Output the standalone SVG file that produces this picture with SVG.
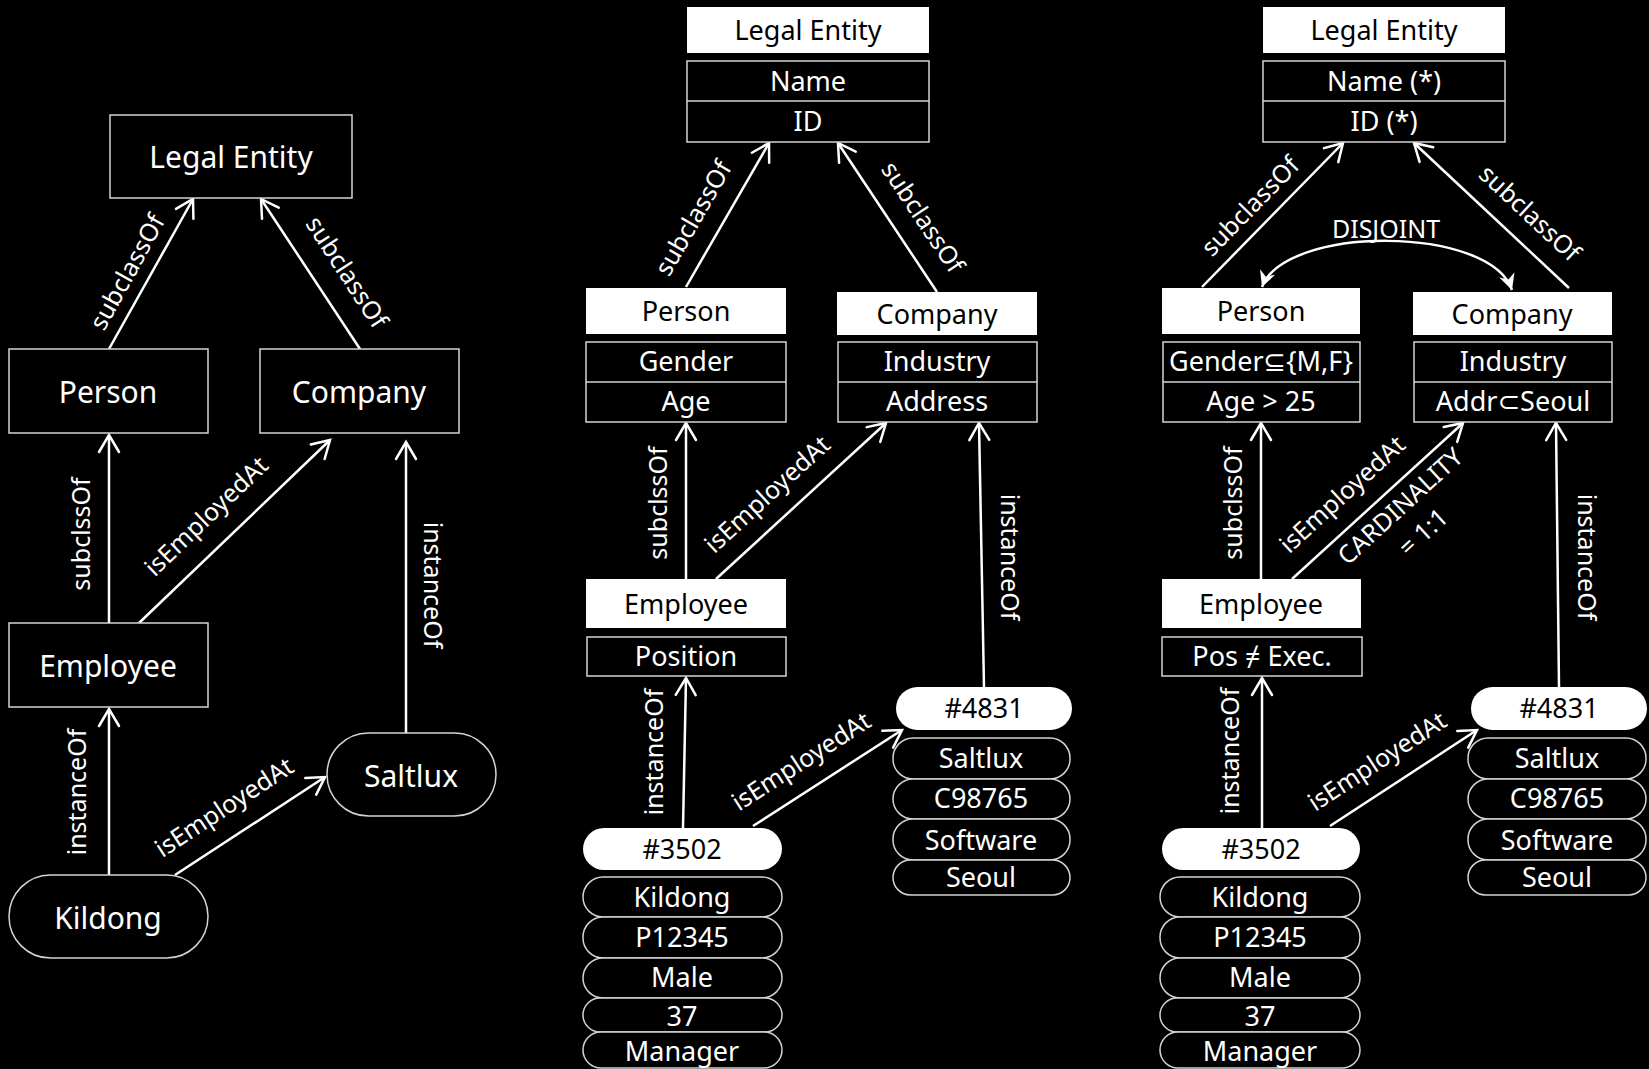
<svg xmlns="http://www.w3.org/2000/svg" width="1649" height="1069" viewBox="0 0 1649 1069">
  <style>
    .bg { fill: #000; }
    .box { fill: #000; stroke: #d4d4d4; stroke-width: 1.5; }
    .hdr { fill: #fff; stroke: none; }
    .t { font-family: "Noto Sans", "Open Sans", "DejaVu Sans", sans-serif; fill: #fff; text-anchor: middle; }
    .dk { fill: #000; }
    .big { font-size: 30px; }
    .mid { font-size: 27px; }
    .lbl { font-size: 25px; }
    .edge { stroke: #fff; stroke-width: 2.5; fill: none; marker-end: url(#open); }
    .dis { stroke: #fff; stroke-width: 2.5; fill: none; marker-start: url(#stealth); marker-end: url(#stealth); }
  </style>
  <defs>
    <marker id="open" markerUnits="userSpaceOnUse" markerWidth="40" markerHeight="40" viewBox="-20 -20 40 40" refX="0" refY="0" orient="auto" overflow="visible">
      <path d="M-17,-10 L0,0 L-17,10" fill="none" stroke="#fff" stroke-width="2.5" stroke-linecap="round"/>
    </marker>
    <marker id="stealth" markerUnits="userSpaceOnUse" markerWidth="40" markerHeight="40" viewBox="-20 -20 40 40" refX="0" refY="0" orient="auto-start-reverse" overflow="visible">
      <path d="M0,0 L-16,-8 L-11,0 L-16,8 Z" fill="#fff"/>
    </marker>
  </defs>

  <rect class="bg" x="0" y="0" width="1649" height="1069"/>

  <!-- ===== Connectors ===== -->
  <g id="connectors">
    <!-- simple graph -->
    <line class="edge" x1="109" y1="349" x2="193" y2="199"/>
    <line class="edge" x1="360" y1="349" x2="261" y2="199"/>
    <line class="edge" x1="109" y1="623" x2="109" y2="435"/>
    <line class="edge" x1="139" y1="623" x2="330" y2="440"/>
    <line class="edge" x1="406" y1="733" x2="406" y2="442"/>
    <line class="edge" x1="109" y1="875" x2="109" y2="709"/>
    <line class="edge" x1="175" y1="875" x2="325" y2="777"/>

    <!-- schema graph -->
    <line class="edge" x1="686" y1="287" x2="769" y2="143"/>
    <line class="edge" x1="937" y1="292" x2="838" y2="143"/>
    <line class="edge" x1="686" y1="579" x2="686" y2="423"/>
    <line class="edge" x1="716" y1="579" x2="886" y2="423"/>
    <line class="edge" x1="984" y1="687" x2="979" y2="423"/>
    <line class="edge" x1="683" y1="828" x2="686" y2="678"/>
    <line class="edge" x1="753" y1="826" x2="902" y2="730"/>

    <!-- constrained schema graph -->
    <line class="edge" x1="1202" y1="287" x2="1343" y2="143"/>
    <line class="edge" x1="1569" y1="288" x2="1414" y2="143"/>
    <line class="edge" x1="1261" y1="579" x2="1261" y2="423"/>
    <line class="edge" x1="1292" y1="579" x2="1463" y2="423"/>
    <line class="edge" x1="1559" y1="687" x2="1556" y2="423"/>
    <line class="edge" x1="1262" y1="828" x2="1262" y2="678"/>
    <line class="edge" x1="1330" y1="826" x2="1477" y2="730"/>
    <path class="dis" d="M1262,287 C1285,225 1490,225 1512,290"/>

    <!-- edge labels -->
    <g class="t lbl">
      <text transform="translate(127,272) rotate(-61)" y="9">subclassOf</text>
      <text transform="translate(347,272) rotate(57)" y="9">subclassOf</text>
      <text transform="translate(81,534) rotate(-90)" y="9">subclssOf</text>
      <text transform="translate(206,516) rotate(-43.8)" y="9">isEmployedAt</text>
      <text transform="translate(433,585) rotate(90)" y="9">instanceOf</text>
      <text transform="translate(77,792) rotate(-90)" y="9">instanceOf</text>
      <text transform="translate(224,807) rotate(-33.2)" y="9">isEmployedAt</text>

      <text transform="translate(693,218) rotate(-60)" y="9">subclassOf</text>
      <text transform="translate(923,217) rotate(56.4)" y="9">subclassOf</text>
      <text transform="translate(658,503) rotate(-90)" y="9">subclssOf</text>
      <text transform="translate(767,494) rotate(-42.5)" y="9">isEmployedAt</text>
      <text transform="translate(1010,557) rotate(90)" y="9">instanceOf</text>
      <text transform="translate(654,752) rotate(-90)" y="9">instanceOf</text>
      <text transform="translate(801,761) rotate(-32.8)" y="9">isEmployedAt</text>

      <text transform="translate(1250,206) rotate(-45.6)" y="9">subclassOf</text>
      <text transform="translate(1530,213) rotate(43.1)" y="9">subclassOf</text>
      <text x="1386" y="238">DISJOINT</text>
      <text transform="translate(1233,503) rotate(-90)" y="9">subclssOf</text>
      <text transform="translate(1342,494) rotate(-42.4)" y="9">isEmployedAt</text>
      <text transform="translate(1400,506) rotate(-42.4)" y="9">CARDINALITY</text>
      <text transform="translate(1423,532) rotate(-42.4)" y="9">= 1:1</text>
      <text transform="translate(1587,557) rotate(90)" y="9">instanceOf</text>
      <text transform="translate(1230,751) rotate(-90)" y="9">instanceOf</text>
      <text transform="translate(1377,761) rotate(-33.1)" y="9">isEmployedAt</text>
    </g>
  </g>

  <!-- ===== Simple graph nodes ===== -->
  <g id="g1-legal-entity">
    <rect class="box" x="110" y="115" width="242" height="83"/>
    <text class="t big" x="231" y="168">Legal Entity</text>
  </g>
  <g id="g1-person">
    <rect class="box" x="9" y="349" width="199" height="84"/>
    <text class="t big" x="108" y="403">Person</text>
  </g>
  <g id="g1-company">
    <rect class="box" x="260" y="349" width="199" height="84"/>
    <text class="t big" x="359" y="403">Company</text>
  </g>
  <g id="g1-employee">
    <rect class="box" x="9" y="623" width="199" height="84"/>
    <text class="t big" x="108" y="677">Employee</text>
  </g>
  <g id="g1-kildong">
    <rect class="box" x="9" y="875" width="199" height="83" rx="41.5"/>
    <text class="t big" x="108" y="929">Kildong</text>
  </g>
  <g id="g1-saltlux">
    <rect class="box" x="327" y="733" width="169" height="83" rx="41.5"/>
    <text class="t big" x="411" y="787">Saltlux</text>
  </g>

  <!-- ===== Schema graph nodes ===== -->
  <g id="g2-legal-entity">
    <rect class="hdr" x="687" y="7" width="242" height="46"/>
    <text class="t mid dk" x="808" y="40">Legal Entity</text>
    <rect class="box" x="687" y="61" width="242" height="81"/>
    <line class="box" x1="687" y1="101" x2="929" y2="101"/>
    <text class="t mid" x="808" y="91">Name</text>
    <text class="t mid" x="808" y="131">ID</text>
  </g>
  <g id="g2-person">
    <rect class="hdr" x="586" y="288" width="200" height="46"/>
    <text class="t mid dk" x="686" y="321">Person</text>
    <rect class="box" x="586" y="342" width="200" height="80"/>
    <line class="box" x1="586" y1="382" x2="786" y2="382"/>
    <text class="t mid" x="686" y="371">Gender</text>
    <text class="t mid" x="686" y="411">Age</text>
  </g>
  <g id="g2-company">
    <rect class="hdr" x="837" y="292" width="200" height="43"/>
    <text class="t mid dk" x="937" y="324">Company</text>
    <rect class="box" x="838" y="342" width="199" height="80"/>
    <line class="box" x1="838" y1="382" x2="1037" y2="382"/>
    <text class="t mid" x="937" y="371">Industry</text>
    <text class="t mid" x="937" y="411">Address</text>
  </g>
  <g id="g2-employee">
    <rect class="hdr" x="586" y="579" width="200" height="49"/>
    <text class="t mid dk" x="686" y="614">Employee</text>
    <rect class="box" x="587" y="637" width="199" height="39"/>
    <text class="t mid" x="686" y="666">Position</text>
  </g>
  <g id="g2-i3502">
    <rect class="hdr" x="583" y="828" width="199" height="42" rx="21"/>
    <text class="t mid dk" x="682" y="859">#3502</text>
    <rect class="box" x="583" y="877" width="199" height="40" rx="20"/>
    <text class="t mid" x="682" y="907">Kildong</text>
    <rect class="box" x="583" y="917" width="199" height="41" rx="20"/>
    <text class="t mid" x="682" y="947">P12345</text>
    <rect class="box" x="583" y="958" width="199" height="40" rx="20"/>
    <text class="t mid" x="682" y="987">Male</text>
    <rect class="box" x="583" y="998" width="199" height="34" rx="17"/>
    <text class="t mid" x="682" y="1026">37</text>
    <rect class="box" x="583" y="1032" width="199" height="36" rx="18"/>
    <text class="t mid" x="682" y="1061">Manager</text>
  </g>
  <g id="g2-i4831">
    <rect class="hdr" x="896" y="687" width="176" height="43" rx="21.5"/>
    <text class="t mid dk" x="984" y="718">#4831</text>
    <rect class="box" x="893" y="738" width="177" height="41" rx="20"/>
    <text class="t mid" x="981" y="768">Saltlux</text>
    <rect class="box" x="893" y="779" width="177" height="40" rx="20"/>
    <text class="t mid" x="981" y="808">C98765</text>
    <rect class="box" x="893" y="819" width="177" height="41" rx="20"/>
    <text class="t mid" x="981" y="850">Software</text>
    <rect class="box" x="893" y="860" width="177" height="35" rx="17.5"/>
    <text class="t mid" x="981" y="887">Seoul</text>
  </g>

  <!-- ===== Constrained schema graph nodes ===== -->
  <g id="g3-legal-entity">
    <rect class="hdr" x="1263" y="7" width="242" height="46"/>
    <text class="t mid dk" x="1384" y="40">Legal Entity</text>
    <rect class="box" x="1263" y="61" width="242" height="81"/>
    <line class="box" x1="1263" y1="101" x2="1505" y2="101"/>
    <text class="t mid" x="1384" y="91">Name (*)</text>
    <text class="t mid" x="1384" y="131">ID (*)</text>
  </g>
  <g id="g3-person">
    <rect class="hdr" x="1162" y="288" width="198" height="46"/>
    <text class="t mid dk" x="1261" y="321">Person</text>
    <rect class="box" x="1163" y="342" width="197" height="80"/>
    <line class="box" x1="1163" y1="382" x2="1360" y2="382"/>
    <text class="t mid" x="1261" y="371">Gender⊆{M,F}</text>
    <text class="t mid" x="1261" y="411">Age &gt; 25</text>
  </g>
  <g id="g3-company">
    <rect class="hdr" x="1413" y="292" width="199" height="43"/>
    <text class="t mid dk" x="1512" y="324">Company</text>
    <rect class="box" x="1414" y="342" width="198" height="80"/>
    <line class="box" x1="1414" y1="382" x2="1612" y2="382"/>
    <text class="t mid" x="1513" y="371">Industry</text>
    <text class="t mid" x="1513" y="411">Addr⊂Seoul</text>
  </g>
  <g id="g3-employee">
    <rect class="hdr" x="1162" y="579" width="199" height="49"/>
    <text class="t mid dk" x="1261" y="614">Employee</text>
    <rect class="box" x="1162" y="637" width="200" height="39"/>
    <text class="t mid" x="1262" y="666">Pos ≠ Exec.</text>
  </g>
  <g id="g3-i3502">
    <rect class="hdr" x="1162" y="828" width="198" height="42" rx="21"/>
    <text class="t mid dk" x="1261" y="859">#3502</text>
    <rect class="box" x="1160" y="877" width="200" height="40" rx="20"/>
    <text class="t mid" x="1260" y="907">Kildong</text>
    <rect class="box" x="1160" y="917" width="200" height="41" rx="20"/>
    <text class="t mid" x="1260" y="947">P12345</text>
    <rect class="box" x="1160" y="958" width="200" height="40" rx="20"/>
    <text class="t mid" x="1260" y="987">Male</text>
    <rect class="box" x="1160" y="998" width="200" height="34" rx="17"/>
    <text class="t mid" x="1260" y="1026">37</text>
    <rect class="box" x="1160" y="1032" width="200" height="36" rx="18"/>
    <text class="t mid" x="1260" y="1061">Manager</text>
  </g>
  <g id="g3-i4831">
    <rect class="hdr" x="1471" y="687" width="176" height="43" rx="21.5"/>
    <text class="t mid dk" x="1559" y="718">#4831</text>
    <rect class="box" x="1468" y="738" width="178" height="41" rx="20"/>
    <text class="t mid" x="1557" y="768">Saltlux</text>
    <rect class="box" x="1468" y="779" width="178" height="40" rx="20"/>
    <text class="t mid" x="1557" y="808">C98765</text>
    <rect class="box" x="1468" y="819" width="178" height="41" rx="20"/>
    <text class="t mid" x="1557" y="850">Software</text>
    <rect class="box" x="1468" y="860" width="178" height="35" rx="17.5"/>
    <text class="t mid" x="1557" y="887">Seoul</text>
  </g>
</svg>
